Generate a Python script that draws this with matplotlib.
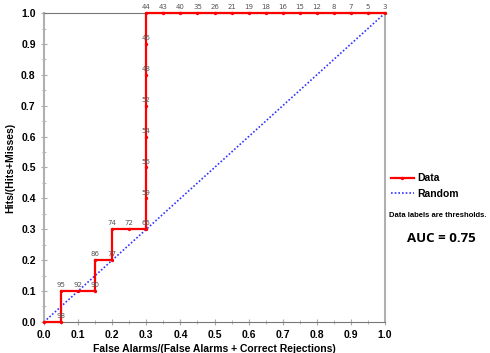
import matplotlib.pyplot as plt
from matplotlib.ticker import MultipleLocator

# ROC points (false alarm rate, hit rate) and threshold labels
fa = [0.0, 0.05, 0.05, 0.10, 0.15, 0.15, 0.20, 0.20, 0.25, 0.30, 0.30, 0.30, 0.30,
      0.30, 0.30, 0.30, 0.30, 0.35, 0.40, 0.45, 0.50, 0.55, 0.60, 0.65, 0.70,
      0.75, 0.80, 0.85, 0.90, 0.95, 1.00]
hits = [0.0, 0.0, 0.1, 0.1, 0.1, 0.2, 0.2, 0.3, 0.3, 0.3, 0.4, 0.5, 0.6,
        0.7, 0.8, 0.9, 1.0, 1.0, 1.0, 1.0, 1.0, 1.0, 1.0, 1.0, 1.0,
        1.0, 1.0, 1.0, 1.0, 1.0, 1.0]
thresholds = ["", "98", "95", "92", "90", "86", "77", "74", "72", "65", "59", "56", "54",
              "52", "48", "46", "44", "43", "40", "35", "26", "21", "19", "18", "16",
              "15", "12", "8", "7", "5", "3"]
auc = 0.75

plt.rcParams["font.family"] = ["Liberation Sans", "DejaVu Sans"]

fig = plt.figure(figsize=(4.9, 3.53), dpi=100)
ax = fig.add_axes([0.0898, 0.088, 0.696, 0.875])

# random classifier diagonal
ax.plot([0, 1], [0, 1], color="#3333ff", linestyle=(0, (1, 1.2)), linewidth=1.2,
        label="Random", zorder=2)
# data staircase
ax.plot(fa, hits, color="red", linewidth=1.6, marker="o", markersize=1.4,
        label="Data", zorder=3, clip_on=False)

for x, y, t in zip(fa, hits, thresholds):
    if t:
        ax.annotate(t, (x, y), xytext=(0, 2), textcoords="offset points",
                    ha="center", va="bottom", fontsize=5, color="#555555",
                    family="DejaVu Sans", annotation_clip=False)

ax.set_xlim(0, 1)
ax.set_ylim(0, 1)
ax.xaxis.set_major_locator(MultipleLocator(0.1))
ax.xaxis.set_minor_locator(MultipleLocator(0.05))
ax.yaxis.set_major_locator(MultipleLocator(0.1))
ax.yaxis.set_minor_locator(MultipleLocator(0.05))
ax.xaxis.set_major_formatter(plt.FormatStrFormatter("%.1f"))
ax.yaxis.set_major_formatter(plt.FormatStrFormatter("%.1f"))
ax.tick_params(which="both", direction="inout", color="#aaaaaa", labelsize=7.5)
ax.tick_params(which="major", length=5)
ax.tick_params(which="minor", length=3)
for lab in ax.get_xticklabels() + ax.get_yticklabels():
    lab.set_fontweight("bold")

for side in ["left", "right"]:
    ax.spines[side].set_color("#b0b0b0")
    ax.spines[side].set_linewidth(1.5)
ax.spines["top"].set_color("#777777")
ax.spines["bottom"].set_color("#777777")

ax.set_xlabel("False Alarms/(False Alarms + Correct Rejections)", fontsize=7.5,
              fontweight="bold", labelpad=3)
ax.set_ylabel("Hits/(Hits+Misses)", fontsize=7.5, fontweight="bold", labelpad=4)

ax.legend(loc="center left", bbox_to_anchor=(0.99, 0.44), frameon=False,
          prop={"weight": "bold", "size": 7.5},
          handlelength=2.2, handletextpad=0.3, labelspacing=0.5, reverse=True)

fig.text(0.794, 0.385, "Data labels are thresholds.", fontsize=5.5,
         fontweight="bold", family="Liberation Sans")
fig.text(0.830, 0.315, f"AUC = {auc:.2f}", fontsize=9.5, fontweight="bold",
         family="Open Sans")

fig.savefig("out.png", dpi=100)
